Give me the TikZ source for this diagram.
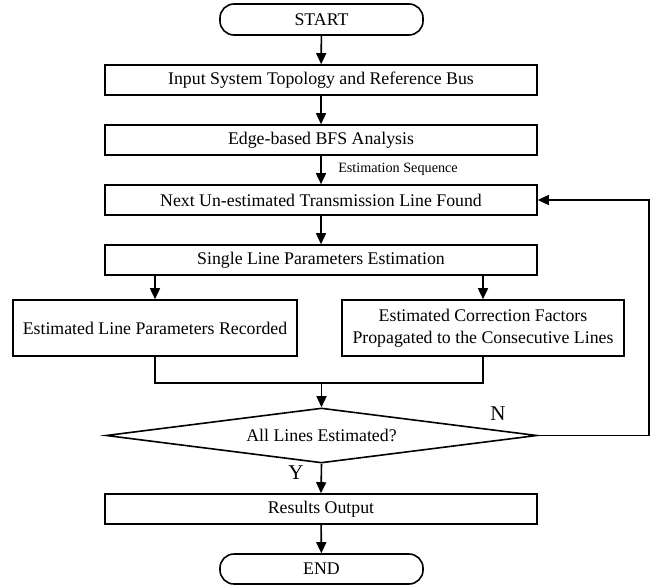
\documentclass[tikz,border=0pt]{standalone}
\usepackage{fontspec}
\setmainfont{Liberation Serif}
\usetikzlibrary{shapes.geometric,arrows.meta}
\begin{document}
\begin{tikzpicture}[x=1pt,y=-1pt,
  every node/.style={font=\fontsize{17.8}{22}\selectfont},
  procbox/.style={draw,line width=1.6pt,rectangle,minimum width=432pt,minimum height=30pt,inner sep=0pt},
  termbox/.style={draw,line width=1.6pt,rectangle,rounded corners=14pt,minimum width=203pt,minimum height=31pt,inner sep=0pt},
  sidebox/.style={draw,line width=1.6pt,rectangle,minimum height=56pt,inner sep=0pt,align=center},
  decbox/.style={draw,line width=1.6pt,diamond,aspect=7.84,minimum width=431pt,minimum height=55pt,inner sep=0pt},
  flow/.style={line width=1.6pt,-{Triangle[length=11pt,width=10pt]}},
  plainline/.style={line width=1.6pt},
  smalllabel/.style={font=\fontsize{14.2}{16}\selectfont},
  biglabel/.style={font=\fontsize{21}{24}\selectfont}]
\useasboundingbox (0,0) rectangle (667,586);
\node[termbox] (start) at (321.5,19.5) {START};
\node[procbox] (input) at (321,80) {Input System Topology and Reference Bus};
\node[procbox] (bfs) at (321,140) {Edge-based BFS Analysis};
\node[procbox] (next) at (321,200) {Next Un-estimated Transmission Line Found};
\node[procbox] (single) at (321,260) {Single Line Parameters Estimation};
\node[sidebox,minimum width=284pt] (rec) at (155,328) {Estimated Line Parameters Recorded};
\node[sidebox,minimum width=282pt] (prop) at (483,328) {Estimated Correction Factors\\Propagated to the Consecutive Lines};
\node[decbox] (dec) at (321.5,435.5) {All Lines Estimated?};
\node[procbox] (res) at (321,509) {Results Output};
\node[termbox,minimum height=30pt] (end) at (321.5,569) {END};
\node[smalllabel] (seq) at (398,169) {Estimation Sequence};
\node[biglabel] (ylab) at (296,473) {Y};
\node[biglabel] (nlab) at (498,414) {N};
\coordinate (m) at (321.5,383);
\coordinate (fb) at (649,435.5);
\draw[flow] (start) -- (input);
\draw[flow] (input) -- (bfs);
\draw[flow] (bfs) -- (next);
\draw[flow] (next) -- (single);
\draw[flow] (single.south -| rec.north) -- (rec.north);
\draw[flow] (single.south -| prop.north) -- (prop.north);
\draw[plainline] (rec.south) |- (m) -| (prop.south);
\draw[flow] (m) -- (dec.north);
\draw[flow] (dec.east) -- (fb) |- (next.east);
\draw[flow] (dec.south) -- (res.north);
\draw[flow] (res) -- (end);
\end{tikzpicture}
\end{document}
